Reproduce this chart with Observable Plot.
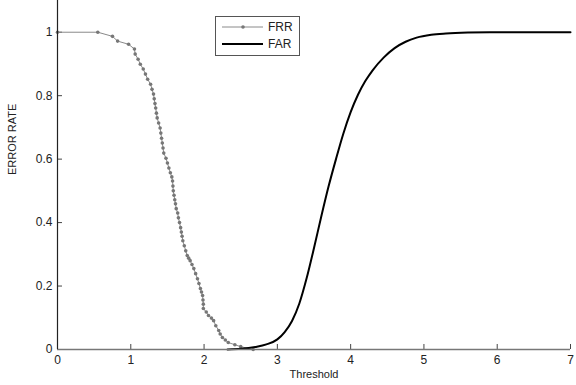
<!DOCTYPE html>
<html>
<head>
<meta charset="utf-8">
<script src="https://cdn.jsdelivr.net/npm/d3@7"></script>
<script src="https://cdn.jsdelivr.net/npm/@observablehq/plot@0.6"></script>
<style>
  html, body { margin: 0; padding: 0; background: #fff; }
  #wrap { position: relative; width: 576px; height: 385px; font-family: "Liberation Sans", Arial, sans-serif; }
  #legend { position: absolute; left: 215px; top: 16px; }
</style>
</head>
<body>
<div id="wrap"></div>
<script>
// FRR (false rejection rate) samples: threshold, rate
const frrX = [0, 0.55, 0.75, 0.82, 0.97, 1.05, 1.06, 1.10, 1.13, 1.17, 1.20, 1.23, 1.27, 1.29, 1.31, 1.32, 1.33, 1.34, 1.35, 1.36, 1.38, 1.40, 1.41, 1.42, 1.43, 1.44, 1.45, 1.48, 1.50, 1.52, 1.54, 1.56, 1.57, 1.575, 1.58, 1.59, 1.60, 1.61, 1.62, 1.64, 1.65, 1.665, 1.68, 1.69, 1.70, 1.71, 1.73, 1.75, 1.77, 1.79, 1.81, 1.835, 1.86, 1.885, 1.91, 1.93, 1.95, 1.965, 1.98, 1.985, 1.99, 1.99, 2.03, 2.06, 2.10, 2.13, 2.16, 2.20, 2.22, 2.25, 2.29, 2.33, 2.42, 2.50, 2.67];
const frrY = [1.000, 1.000, 0.987, 0.972, 0.962, 0.947, 0.931, 0.915, 0.899, 0.884, 0.868, 0.852, 0.836, 0.820, 0.805, 0.790, 0.775, 0.761, 0.745, 0.730, 0.714, 0.698, 0.682, 0.666, 0.651, 0.635, 0.619, 0.603, 0.588, 0.572, 0.557, 0.544, 0.531, 0.515, 0.500, 0.486, 0.472, 0.459, 0.444, 0.430, 0.415, 0.400, 0.384, 0.370, 0.357, 0.343, 0.327, 0.311, 0.296, 0.288, 0.280, 0.268, 0.255, 0.239, 0.223, 0.208, 0.192, 0.181, 0.170, 0.156, 0.143, 0.129, 0.118, 0.107, 0.099, 0.091, 0.075, 0.060, 0.049, 0.038, 0.030, 0.022, 0.015, 0.009, 0.000];

// FAR (false acceptance rate) samples
const farX = [2.32, 2.50, 2.70, 2.85, 3.00, 3.10, 3.20, 3.30, 3.40, 3.50, 3.60, 3.70, 3.80, 3.90, 4.00, 4.10, 4.20, 4.30, 4.45, 4.60, 4.75, 4.90, 5.10, 5.30, 5.60, 5.90, 7.00];
const farY = [0, 0.002, 0.008, 0.016, 0.032, 0.055, 0.090, 0.145, 0.225, 0.320, 0.420, 0.515, 0.600, 0.680, 0.748, 0.803, 0.846, 0.880, 0.920, 0.950, 0.970, 0.983, 0.992, 0.996, 0.999, 1.0, 1.0];

const xTicks = [0, 1, 2, 3, 4, 5, 6, 7];
const yTicks = [0, 0.2, 0.4, 0.6, 0.8, 1];

const frr = frrX.map((x, i) => ({x, y: frrY[i]}));
const far = farX.map((x, i) => ({x, y: farY[i]}));

const xTickLen = 5 / 73.3;   // inward tick lengths
const yTickLen = 5 / 317;

const chart = Plot.plot({
  width: 576,
  height: 385,
  marginLeft: 57,
  marginRight: 6,
  marginTop: 0,
  marginBottom: 36,
  style: {fontFamily: "Liberation Sans, Arial, sans-serif", fontSize: "12px", color: "#222", background: "#fff"},
  x: {domain: [0, 7]},
  y: {domain: [0, 1.1]},
  marks: [
    Plot.axisX({ticks: xTicks, tickSize: 0, tickPadding: 6, label: null, fontSize: 12, tickFormat: d => String(d)}),
    Plot.axisY({ticks: yTicks, tickSize: 0, tickPadding: 5, label: null, fontSize: 12, tickFormat: d => String(d)}),
    Plot.ruleX(xTicks, {y1: 0, y2: yTickLen, stroke: "#444", strokeWidth: 1}),
    Plot.ruleY(yTicks, {x1: 0, x2: xTickLen, stroke: "#444", strokeWidth: 1}),
    Plot.line(frr, {x: "x", y: "y", stroke: "#8a8a8a", strokeWidth: 1}),
    Plot.dot(frr, {x: "x", y: "y", r: 1.8, fill: "#777", stroke: null}),
    Plot.line(far, {x: "x", y: "y", stroke: "#000", strokeWidth: 2, curve: "monotone-x"}),
    Plot.ruleY([0], {stroke: "#777", strokeWidth: 1.5}),
    Plot.ruleX([0], {stroke: "#222", strokeWidth: 1.2}),
    Plot.text(["Threshold"], {frameAnchor: "bottom", dy: 28, fontSize: 11, fill: "#222"}),
    Plot.text(["ERROR RATE"], {frameAnchor: "left", dx: -45, rotate: -90, fontSize: 11, fill: "#222"})
  ]
});

const wrap = document.getElementById("wrap");
wrap.appendChild(chart);

// legend overlay
const lg = d3.select(wrap).append("svg").attr("id", "legend")
  .attr("width", 86).attr("height", 41);
lg.append("rect").attr("x", 0.5).attr("y", 0.5).attr("width", 84).attr("height", 39)
  .attr("fill", "#fff").attr("stroke", "#555").attr("stroke-width", 1);
lg.append("line").attr("x1", 7).attr("x2", 48).attr("y1", 11).attr("y2", 11).attr("stroke", "#8a8a8a");
lg.append("circle").attr("cx", 28).attr("cy", 11).attr("r", 1.8).attr("fill", "#777");
lg.append("line").attr("x1", 7).attr("x2", 48).attr("y1", 28).attr("y2", 28).attr("stroke", "#000").attr("stroke-width", 2);
lg.append("text").attr("x", 53).attr("y", 15).text("FRR").attr("font-size", 12).attr("fill", "#222").attr("font-family", "Liberation Sans, Arial, sans-serif");
lg.append("text").attr("x", 53).attr("y", 32).text("FAR").attr("font-size", 12).attr("fill", "#222").attr("font-family", "Liberation Sans, Arial, sans-serif");
</script>
</body>
</html>
